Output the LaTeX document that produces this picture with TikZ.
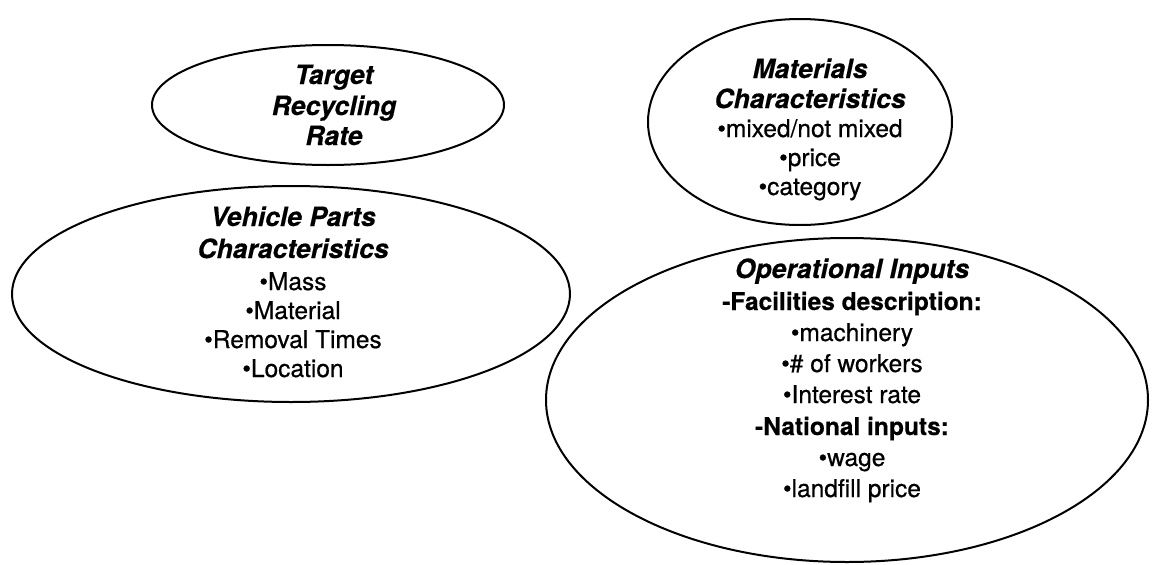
\documentclass[tikz,border=0pt]{standalone}
\usepackage{fontspec}
\setmainfont{TeX Gyre Heros}
\newfontfamily\heavyfont{TeX Gyre Heros}[FakeBold=0.6]
\newfontfamily\heavytitle{TeX Gyre Heros}[FakeBold=0.4]
\usetikzlibrary{shapes.geometric}
\begin{document}
\begin{tikzpicture}[x=1pt,y=-1pt,
  oval/.style={draw=black, line width=2pt, ellipse, inner sep=0pt, outer sep=0pt},
  ttl/.style={anchor=base, inner sep=0pt, font=\heavytitle\fontsize{26.5}{32}\selectfont\bfseries\itshape},
  itm/.style={anchor=base, inner sep=0pt, font=\heavyfont\fontsize{24.5}{29}\selectfont},
  sub/.style={anchor=base, inner sep=0pt, font=\heavytitle\fontsize{24.5}{29}\selectfont\bfseries}]
\useasboundingbox (0,0) rectangle (1152,565);
% ellipses
\node[oval, minimum width=352pt, minimum height=120pt] (e1) at (328,105) {};
\node[oval, minimum width=304pt, minimum height=206pt] (e2) at (800,122) {};
\node[oval, minimum width=558pt, minimum height=216pt] (e3) at (291,294) {};
\node[oval, minimum width=602pt, minimum height=324pt] (e4) at (847,400) {};
% Target Recycling Rate
\node[ttl] (t1a) at (334,84) {Target};
\node[ttl] (t1b) at (334,115) {Recycling};
\node[ttl] (t1c) at (334,145) {Rate};
% Materials Characteristics
\node[ttl] (t2a) at (810,78) {Materials};
\node[ttl] (t2b) at (810,108) {Characteristics};
\node[itm] (t2c) at (810,137) {\textbullet mixed/not mixed};
\node[itm] (t2d) at (810,166) {\textbullet price};
\node[itm] (t2e) at (810,195) {\textbullet category};
% Vehicle Parts Characteristics
\node[ttl] (t3a) at (293,226) {Vehicle Parts};
\node[ttl] (t3b) at (293,258) {Characteristics};
\node[itm] (t3c) at (293,290) {\textbullet Mass};
\node[itm] (t3d) at (293,319) {\textbullet Material};
\node[itm] (t3e) at (293,348) {\textbullet Removal Times};
\node[itm] (t3f) at (293,377) {\textbullet Location};
% Operational Inputs
\node[ttl] (t4a) at (852,278) {Operational Inputs};
\node[sub] (t4b) at (852,310) {-Facilities description:};
\node[itm] (t4c) at (852,341) {\textbullet machinery};
\node[itm] (t4d) at (852,372) {\textbullet\# of workers};
\node[itm] (t4e) at (852,403) {\textbullet Interest rate};
\node[sub] (t4f) at (852,435) {-National inputs:};
\node[itm] (t4g) at (852,466) {\textbullet wage};
\node[itm] (t4h) at (852,497) {\textbullet landfill price};
\end{tikzpicture}
\end{document}
